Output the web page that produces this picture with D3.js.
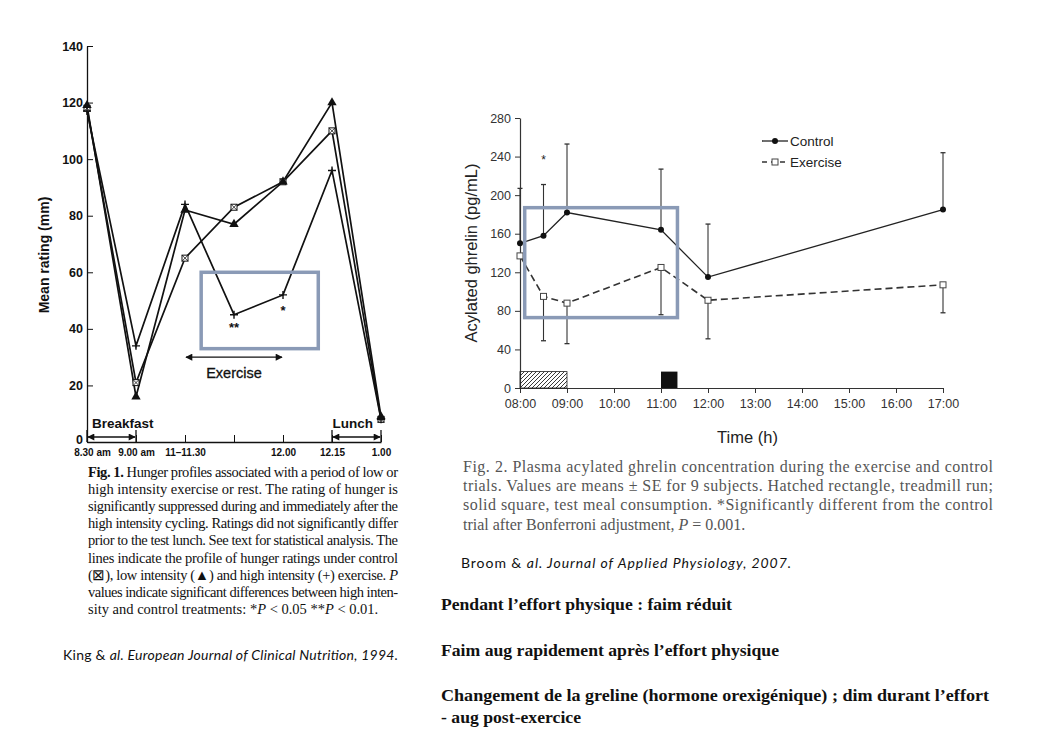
<!DOCTYPE html>
<html>
<head>
<meta charset="utf-8">
<script src="https://cdn.jsdelivr.net/npm/d3@7"></script>
<style>
  body { margin: 0; background: #fff; }
  svg { display: block; }
</style>
</head>
<body>
<svg id="chart" width="1060" height="750"></svg>
<script>
// Fig. 1 (King 1994): hunger ratings, mm
const kingTimes = ["8.30 am", "9.00 am", "11–11.30", "", "12.00", "12.15", "1.00"];
const kingControl = [118, 21, 65, 83, 92, 110, 8];
const kingLow = [119, 16, 82, 77, 92, 120, 9];
const kingHigh = [117, 34, 84, 45, 52, 96, 8];
const kingYTicks = [0, 20, 40, 60, 80, 100, 120, 140];

// Fig. 2 (Broom 2007): acylated ghrelin, pg/mL
const broomHours = [8, 8.5, 9, 11, 12, 17];
const ghrelinControl = [150, 158, 182, 164, 115, 185];
const ghrelinControlSE = [57, 53, 71, 63, 55, 59];
const ghrelinExercise = [137, 95, 88, 125, 91, 107];
const ghrelinExerciseSE = [null, 46, 42, 49, 40, 29];
const broomXTicks = [8, 9, 10, 11, 12, 13, 14, 15, 16, 17];
const broomYTicks = [0, 40, 80, 120, 160, 200, 240, 280];

const fig1Caption = [
  "Hunger profiles associated with a period of low or",
  "high intensity exercise or rest. The rating of hunger is",
  "significantly suppressed during and immediately after the",
  "high intensity cycling. Ratings did not significantly differ",
  "prior to the test lunch. See text for statistical analysis. The",
  "lines indicate the profile of hunger ratings under control",
  "(⊠), low intensity (▲) and high intensity (+) exercise. ",
  "values indicate significant differences between high inten-",
  "sity and control treatments: "
];
const fig2Caption = [
  "Plasma acylated ghrelin concentration during the exercise and control",
  "trials. Values are means ± SE for 9 subjects. Hatched rectangle, treadmill run;",
  "solid square, test meal consumption. *Significantly different from the control",
  "trial after Bonferroni adjustment, "
];
const notes = [
  "Pendant l’effort physique : faim réduit",
  "Faim aug rapidement après l’effort physique",
  "Changement de la greline (hormone orexigénique)  ; dim durant l’effort",
  "- aug post-exercice"
];

const svg = d3.select("#chart");
svg.append("rect").attr("width", 1060).attr("height", 750).attr("fill", "#fff");

const defs = svg.append("defs");
defs.append("marker")
    .attr("id", "arrow")
    .attr("viewBox", "0 0 10 10")
    .attr("refX", 9).attr("refY", 5)
    .attr("markerWidth", 9).attr("markerHeight", 7)
    .attr("markerUnits", "userSpaceOnUse")
    .attr("orient", "auto-start-reverse")
  .append("path")
    .attr("d", "M0,0 L10,5 L0,10 z")
    .attr("fill", "#111");
defs.append("pattern")
    .attr("id", "hatch")
    .attr("patternUnits", "userSpaceOnUse")
    .attr("width", 4).attr("height", 4)
  .append("path")
    .attr("d", "M-1,1 l2,-2 M0,4 l4,-4 M3,5 l2,-2")
    .attr("stroke", "#222")
    .attr("stroke-width", 0.9);

const boxColor = "#8a9ab6";
const sans = "Liberation Sans, Arial, sans-serif";

// ---------------- Fig. 1 ----------------
const xK = d3.scaleLinear().domain([0, 6]).range([87, 381]);
const yK = d3.scaleLinear().domain([0, 140]).range([442, 46]);
const k = svg.append("g");

k.append("g")
    .attr("transform", "translate(87,0)")
    .style("color", "#111")
    .call(d3.axisLeft(yK).tickValues(kingYTicks).tickSizeInner(-6).tickSizeOuter(0).tickPadding(4))
    .attr("font-family", sans)
    .attr("font-size", 12.5)
    .attr("font-weight", "bold")
    .call(g => g.select(".domain").attr("stroke-width", 1.3))
    .call(g => g.selectAll(".tick text").filter(d => d === 0).attr("dy", "0.1em"));

k.append("g")
    .attr("transform", "translate(0,442)")
    .style("color", "#111")
    .call(d3.axisBottom(xK).tickValues(d3.range(7)).tickFormat(i => kingTimes[i])
      .tickSizeInner(-7).tickSizeOuter(0).tickPadding(7))
    .attr("font-family", sans)
    .attr("font-size", 10)
    .attr("font-weight", "bold")
    .call(g => g.select(".domain").attr("stroke-width", 1.3))
    .call(g => g.selectAll(".tick text").filter(d => d === 0).attr("dx", 5));

k.append("text")
    .attr("transform", "translate(49,255) rotate(-90)")
    .attr("text-anchor", "middle")
    .attr("font-family", sans)
    .attr("font-weight", "bold")
    .attr("font-size", 14)
    .attr("fill", "#111")
    .text("Mean rating (mm)");

const lineK = d3.line().x((d, i) => xK(i)).y(d => yK(d));
[kingControl, kingLow, kingHigh].forEach(s => {
  k.append("path")
      .attr("d", lineK(s))
      .attr("fill", "none")
      .attr("stroke", "#111")
      .attr("stroke-width", 1.7);
});

// control markers: crossed square
kingControl.forEach((v, i) => {
  const cx = xK(i), cy = yK(v);
  k.append("rect").attr("x", cx - 3).attr("y", cy - 3).attr("width", 6).attr("height", 6)
      .attr("fill", "#fff").attr("stroke", "#111").attr("stroke-width", 1);
  k.append("path").attr("d", `M${cx - 3},${cy - 3}L${cx + 3},${cy + 3}M${cx + 3},${cy - 3}L${cx - 3},${cy + 3}`)
      .attr("stroke", "#111").attr("stroke-width", 0.8);
});
// low intensity: filled triangle
k.selectAll(".tri").data(kingLow).join("path")
    .attr("transform", (d, i) => `translate(${xK(i)},${yK(d)})`)
    .attr("d", d3.symbol(d3.symbolTriangle, 38))
    .attr("fill", "#111");
// high intensity: plus
kingHigh.forEach((v, i) => {
  const cx = xK(i), cy = yK(v);
  k.append("path").attr("d", `M${cx - 4},${cy}L${cx + 4},${cy}M${cx},${cy - 4}L${cx},${cy + 4}`)
      .attr("stroke", "#111").attr("stroke-width", 1.4);
});

const labK = k.append("g")
    .attr("font-family", sans)
    .attr("font-weight", "bold")
    .attr("fill", "#111");
labK.append("text").attr("x", xK(3)).attr("y", yK(39)).attr("text-anchor", "middle")
    .attr("font-size", 13).text("**");
labK.append("text").attr("x", xK(4)).attr("y", yK(45)).attr("text-anchor", "middle")
    .attr("font-size", 13).text("*");

function arrow(x1, x2, y) {
  k.append("line").attr("x1", x1 + 1).attr("x2", x2 - 1).attr("y1", y).attr("y2", y)
      .attr("stroke", "#111").attr("stroke-width", 1.3)
      .attr("marker-start", "url(#arrow)").attr("marker-end", "url(#arrow)");
}
arrow(xK(2), xK(4), yK(30));
labK.append("text").attr("x", xK(3)).attr("y", yK(30) + 21).attr("text-anchor", "middle")
    .attr("font-size", 14.5).attr("font-weight", "normal").attr("stroke", "#111").attr("stroke-width", 0.3)
    .text("Exercise");

[[0, 1], [5, 6]].forEach(([a, b]) => {
  arrow(xK(a), xK(b), 437);
  [a, b].forEach(j => k.append("line").attr("x1", xK(j)).attr("x2", xK(j))
      .attr("y1", 430).attr("y2", 442).attr("stroke", "#111").attr("stroke-width", 1.3));
});
labK.append("text").attr("x", xK(0) + 5).attr("y", 428).attr("font-size", 13.5).text("Breakfast");
labK.append("text").attr("x", xK(6) - 8).attr("y", 428).attr("text-anchor", "end").attr("font-size", 13.5).text("Lunch");

k.append("rect")
    .attr("x", xK(2.33)).attr("y", yK(60))
    .attr("width", xK(4.72) - xK(2.33)).attr("height", yK(33) - yK(60))
    .attr("fill", "none").attr("stroke", boxColor).attr("stroke-width", 3.5);

// caption fig 1
const cap1 = svg.append("g")
    .attr("font-family", "Liberation Serif, Times New Roman, serif")
    .attr("font-size", 14.5)
    .attr("fill", "#111");
fig1Caption.forEach((line, i) => {
  const t = cap1.append("text").attr("x", 88).attr("y", 477 + i * 17.1);
  if (i === 0) t.append("tspan").attr("font-weight", "bold").text("Fig. 1. ");
  t.append("tspan").text(line);
  if (i === 6) t.append("tspan").attr("font-style", "italic").text("P");
  if (i === 8) {
    t.append("tspan").text("*");
    t.append("tspan").attr("font-style", "italic").text("P");
    t.append("tspan").text(" < 0.05 **");
    t.append("tspan").attr("font-style", "italic").text("P");
    t.append("tspan").text(" < 0.01.");
  } else {
    t.attr("textLength", 310).attr("lengthAdjust", "spacing");
  }
});

svg.append("text")
    .attr("x", 63).attr("y", 660)
    .attr("font-family", "Lato, Open Sans, sans-serif")
    .attr("font-size", 14)
    .attr("fill", "#111")
    .attr("textLength", 335).attr("lengthAdjust", "spacing")
    .call(t => {
      t.append("tspan").text("King & ");
      t.append("tspan").attr("font-style", "italic").text("al. European Journal of Clinical Nutrition, 1994.");
    });

// ---------------- Fig. 2 ----------------
const xB = d3.scaleLinear().domain([8, 17]).range([520, 943]);
const yB = d3.scaleLinear().domain([0, 280]).range([388, 118]);
const b = svg.append("g");

b.append("g")
    .attr("transform", "translate(520,0)")
    .style("color", "#333")
    .call(d3.axisLeft(yB).tickValues(broomYTicks).tickSizeInner(5).tickSizeOuter(0).tickPadding(4))
    .attr("font-family", sans)
    .attr("font-size", 12.5)
    .call(g => g.select(".domain").attr("stroke-width", 1.2));

b.append("g")
    .attr("transform", "translate(0,388)")
    .style("color", "#333")
    .call(d3.axisBottom(xB).tickValues(broomXTicks)
      .tickFormat(h => String(h).padStart(2, "0") + ":00")
      .tickSizeInner(5).tickSizeOuter(0).tickPadding(6))
    .attr("font-family", sans)
    .attr("font-size", 12.5)
    .call(g => g.select(".domain").attr("stroke-width", 1.2));

b.append("text")
    .attr("x", (xB(8) + xB(17)) / 2 + 16).attr("y", 443)
    .attr("text-anchor", "middle")
    .attr("font-family", sans).attr("font-size", 16.5).attr("fill", "#222")
    .text("Time (h)");
b.append("text")
    .attr("transform", "translate(477,253) rotate(-90)")
    .attr("text-anchor", "middle")
    .attr("font-family", sans).attr("font-size", 16.5).attr("fill", "#222")
    .text("Acylated ghrelin (pg/mL)");

// treadmill run and test meal
b.append("rect")
    .attr("x", xB(8)).attr("y", yB(17))
    .attr("width", xB(9) - xB(8)).attr("height", yB(0) - yB(17))
    .attr("fill", "url(#hatch)").attr("stroke", "#222").attr("stroke-width", 0.8);
b.append("rect")
    .attr("x", xB(11)).attr("y", yB(17))
    .attr("width", xB(11.35) - xB(11)).attr("height", yB(0) - yB(17))
    .attr("fill", "#111");

// error bars
function errBars(means, se, dir) {
  means.forEach((m, i) => {
    if (se[i] == null) return;
    const x = xB(broomHours[i]);
    const yEnd = yB(m + dir * se[i]);
    b.append("line").attr("x1", x).attr("x2", x).attr("y1", yB(m)).attr("y2", yEnd)
        .attr("stroke", "#333").attr("stroke-width", 1.1);
    b.append("line").attr("x1", x - 2.5).attr("x2", x + 2.5).attr("y1", yEnd).attr("y2", yEnd)
        .attr("stroke", "#333").attr("stroke-width", 1.3);
  });
}
errBars(ghrelinControl, ghrelinControlSE, 1);
errBars(ghrelinExercise, ghrelinExerciseSE, -1);

const lineB = d3.line().x((d, i) => xB(broomHours[i])).y(d => yB(d));
b.append("path")
    .attr("d", lineB(ghrelinControl))
    .attr("fill", "none").attr("stroke", "#222").attr("stroke-width", 1.3);
b.append("path")
    .attr("d", lineB(ghrelinExercise))
    .attr("fill", "none").attr("stroke", "#333").attr("stroke-width", 1.6)
    .attr("stroke-dasharray", "7,4");

b.selectAll(".ctl").data(ghrelinControl).join("circle")
    .attr("cx", (d, i) => xB(broomHours[i])).attr("cy", d => yB(d))
    .attr("r", 3).attr("fill", "#111");
b.selectAll(".exs").data(ghrelinExercise).join("rect")
    .attr("x", (d, i) => xB(broomHours[i]) - 3).attr("y", d => yB(d) - 3)
    .attr("width", 6).attr("height", 6)
    .attr("fill", "#fff").attr("stroke", "#444").attr("stroke-width", 1);

b.append("text")
    .attr("x", xB(8.5)).attr("y", yB(232))
    .attr("text-anchor", "middle")
    .attr("font-family", sans).attr("font-size", 12).attr("fill", "#222")
    .text("*");

// legend
const lg = b.append("g").attr("font-family", sans).attr("font-size", 13.5).attr("fill", "#222");
lg.append("line").attr("x1", 762).attr("x2", 788).attr("y1", 141).attr("y2", 141)
    .attr("stroke", "#222").attr("stroke-width", 1.3);
lg.append("circle").attr("cx", 775).attr("cy", 141).attr("r", 3).attr("fill", "#111");
lg.append("text").attr("x", 790).attr("y", 146).text("Control");
lg.append("line").attr("x1", 762).attr("x2", 788).attr("y1", 162).attr("y2", 162)
    .attr("stroke", "#333").attr("stroke-width", 1.3).attr("stroke-dasharray", "5,4");
lg.append("rect").attr("x", 772).attr("y", 159).attr("width", 6).attr("height", 6)
    .attr("fill", "#fff").attr("stroke", "#444");
lg.append("text").attr("x", 790).attr("y", 167).text("Exercise");

b.append("rect")
    .attr("x", xB(8.1)).attr("y", yB(187))
    .attr("width", xB(11.35) - xB(8.1)).attr("height", yB(73) - yB(187))
    .attr("fill", "none").attr("stroke", boxColor).attr("stroke-width", 3.5);

// caption fig 2
const cap2 = svg.append("g")
    .attr("font-family", "Liberation Serif, Times New Roman, serif")
    .attr("font-size", 16)
    .attr("fill", "#555");
fig2Caption.forEach((line, i) => {
  const t = cap2.append("text").attr("x", 463).attr("y", 472 + i * 19.2);
  if (i === 0) t.append("tspan").text("Fig. 2.  ");
  t.append("tspan").text(line);
  if (i === 3) {
    t.append("tspan").attr("font-style", "italic").text("P");
    t.append("tspan").text(" = 0.001.");
  } else {
    t.attr("textLength", 530).attr("lengthAdjust", "spacing");
  }
});

svg.append("text")
    .attr("x", 461).attr("y", 568)
    .attr("font-family", "Lato, Open Sans, sans-serif")
    .attr("font-size", 14)
    .attr("fill", "#111")
    .attr("textLength", 330).attr("lengthAdjust", "spacing")
    .call(t => {
      t.append("tspan").text("Broom & ");
      t.append("tspan").attr("font-style", "italic").text("al. Journal of Applied Physiology, 2007.");
    });

// conclusions
const noteY = [610, 656, 701, 723];
const noteW = [291, 338, 548, 140];
notes.forEach((n, i) => {
  svg.append("text")
      .attr("x", 441).attr("y", noteY[i])
      .attr("font-family", "Liberation Serif, Times New Roman, serif")
      .attr("font-weight", "bold")
      .attr("font-size", 17)
      .attr("fill", "#111")
      .attr("textLength", noteW[i]).attr("lengthAdjust", "spacingAndGlyphs")
      .text(n);
});
</script>
</body>
</html>
